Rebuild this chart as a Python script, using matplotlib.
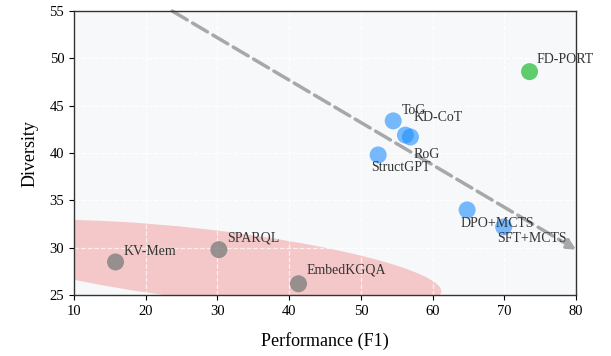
import matplotlib
matplotlib.use("Agg")
import matplotlib.pyplot as plt
from matplotlib.patches import Ellipse
from matplotlib.transforms import Affine2D

plt.rcParams['font.family'] = ['Liberation Serif', 'DejaVu Serif']

# data
blue_names = ["ToG", "KD-CoT", "RoG", "StructGPT", "DPO+MCTS", "SFT+MCTS"]
blue_f1 = [54.5, 56.2, 56.9, 52.4, 64.8, 69.9]
blue_div = [43.4, 41.9, 41.7, 39.8, 34.0, 32.2]

gray_names = ["KV-Mem", "SPARQL", "EmbedKGQA"]
gray_f1 = [15.8, 30.2, 41.3]
gray_div = [28.5, 29.8, 26.2]

ours_name = "FD-PORT"
ours_f1 = 73.5
ours_div = 48.6

# label offsets (points) and alignment
offsets = {
    "ToG": (6, 3, "left", "bottom"),
    "KD-CoT": (6, 8, "left", "bottom"),
    "RoG": (2, -8, "left", "top"),
    "StructGPT": (-5, -4, "left", "top"),
    "DPO+MCTS": (-5, -5, "left", "top"),
    "SFT+MCTS": (-5, -4, "left", "top"),
    "KV-Mem": (6, 3, "left", "bottom"),
    "SPARQL": (6, 4, "left", "bottom"),
    "EmbedKGQA": (6, 5, "left", "bottom"),
    "FD-PORT": (5, 4, "left", "bottom"),
}

fig = plt.figure(figsize=(6.11, 3.56), dpi=100)
ax = fig.add_axes([0.121, 0.171, 0.822, 0.798])
ax.set_facecolor('#f7f8fa')
ax.set_xlim(10, 80)
ax.set_ylim(25, 55)

ax.grid(True, color='white', linestyle='--', linewidth=0.9, zorder=0)
ax.set_axisbelow(True)

# shaded region of the baselines (sheared ellipse)
reg = Ellipse((0, 0), 2, 2, facecolor='lightcoral', alpha=0.4, edgecolor='none', zorder=1)
reg.set_transform(Affine2D.from_values(33.2, 33.2 * -0.0855, 0, 3.75, 28.0, 28.24) + ax.transData)
ax.add_patch(reg)
# grid lines stay visible over the region
for gx in [20, 30, 40, 50, 60]:
    ax.axvline(gx, color='white', ls='--', lw=0.9, alpha=0.7, zorder=1.5)
ax.axhline(30, color='white', ls='--', lw=0.9, alpha=0.7, zorder=1.5)

# trend arrow
ax.annotate('', xy=(80, 29.8), xytext=(23.7, 55),
            arrowprops=dict(arrowstyle='-|>', linestyle=(0, (5, 1.8)), color='#a8a8a8',
                            lw=2.5, mutation_scale=15, shrinkA=0, shrinkB=0),
            zorder=2)

ax.scatter(gray_f1, gray_div, s=150, color='gray', alpha=0.8, edgecolors='none', zorder=3)
ax.scatter(blue_f1, blue_div, s=150, color='dodgerblue', alpha=0.6, edgecolors='none', zorder=3)
ax.scatter([ours_f1], [ours_div], s=150, color='#5fcd6e', edgecolors='none', zorder=3)

names = blue_names + gray_names + [ours_name]
xs = blue_f1 + gray_f1 + [ours_f1]
ys = blue_div + gray_div + [ours_div]
for n, x, y in zip(names, xs, ys):
    dx, dy, ha, va = offsets[n]
    ax.annotate(n, (x, y), xytext=(dx, dy), textcoords='offset points',
                ha=ha, va=va, fontsize=10, color='#333333', zorder=4,
                annotation_clip=False)

ax.set_xlabel('Performance (F1)', fontsize=13, labelpad=10)
ax.set_ylabel('Diversity', fontsize=13, labelpad=8)
ax.tick_params(labelsize=10.5)
for s in ax.spines.values():
    s.set_color('#333333')
    s.set_linewidth(1.0)

fig.savefig('out.png', dpi=100)
